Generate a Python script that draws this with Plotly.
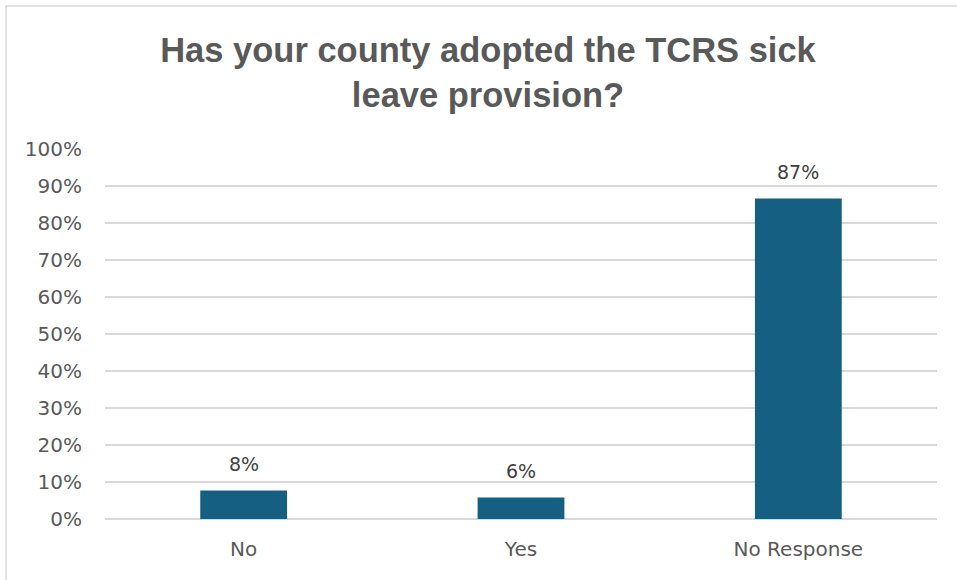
import plotly.graph_objects as go

# Survey responses
categories = ["No", "Yes", "No Response"]
shares = [0.077, 0.058, 0.866]
tick_values = [i / 10 for i in range(11)]
tick_labels = [f"{i * 10}%" for i in range(11)]

BAR_COLOR = "#156082"
TEXT_GRAY = "#595959"
LABEL_GRAY = "#404040"
GRID_GRAY = "#d9d9d9"
BODY_FONT = "DejaVu Sans, Verdana, sans-serif"

W, H = 957, 580
L, R, T, B = 105, 19.5, 149, 61

fig = go.Figure(
    go.Bar(
        x=categories,
        y=shares,
        marker=dict(color=BAR_COLOR, line=dict(width=0)),
        hoverinfo="skip",
    )
)

# value labels above each bar
for cat, val in zip(categories, shares):
    fig.add_annotation(
        x=cat,
        y=val,
        text=f"{val:.0%}",
        showarrow=False,
        yanchor="bottom",
        yshift=14,
        font=dict(family=BODY_FONT, size=19, color=LABEL_GRAY),
    )

pw = W - L - R
ph = H - T - B


def px_x(p):
    return (p - L) / pw


def px_y(p):
    return (H - B - p) / ph


fig.update_layout(
    width=W,
    height=H,
    margin=dict(l=L, r=R, t=T, b=B, pad=0),
    paper_bgcolor="white",
    plot_bgcolor="white",
    showlegend=False,
    bargap=0.687,
    title=dict(
        text="Has your county adopted the TCRS sick<br>leave provision?",
        x=488 / W,
        xanchor="center",
        xref="container",
        y=1 - 62 / H,
        yanchor="middle",
        font=dict(family="Liberation Sans, Arial, sans-serif",
                  size=34.5, color=TEXT_GRAY, weight="bold"),
    ),
    xaxis=dict(
        showgrid=False,
        showline=False,
        ticks="",
        tickfont=dict(family=BODY_FONT, size=20, color=TEXT_GRAY),
        ticklabelstandoff=16,
    ),
    yaxis=dict(
        range=[0, 1],
        tickvals=tick_values,
        ticktext=tick_labels,
        showgrid=True,
        gridcolor=GRID_GRAY,
        gridwidth=1.5,
        zeroline=True,
        zerolinecolor=GRID_GRAY,
        zerolinewidth=1.5,
        showline=False,
        ticks="",
        tickfont=dict(family=BODY_FONT, size=20, color=TEXT_GRAY),
        ticklabelstandoff=22,
    ),
    shapes=[
        dict(
            type="rect",
            xref="paper",
            yref="paper",
            x0=px_x(6),
            x1=px_x(990),
            y0=px_y(600),
            y1=px_y(6),
            line=dict(color=GRID_GRAY, width=1.5),
            fillcolor="rgba(0,0,0,0)",
            layer="below",
        )
    ],
)

fig.write_html("out.html")
